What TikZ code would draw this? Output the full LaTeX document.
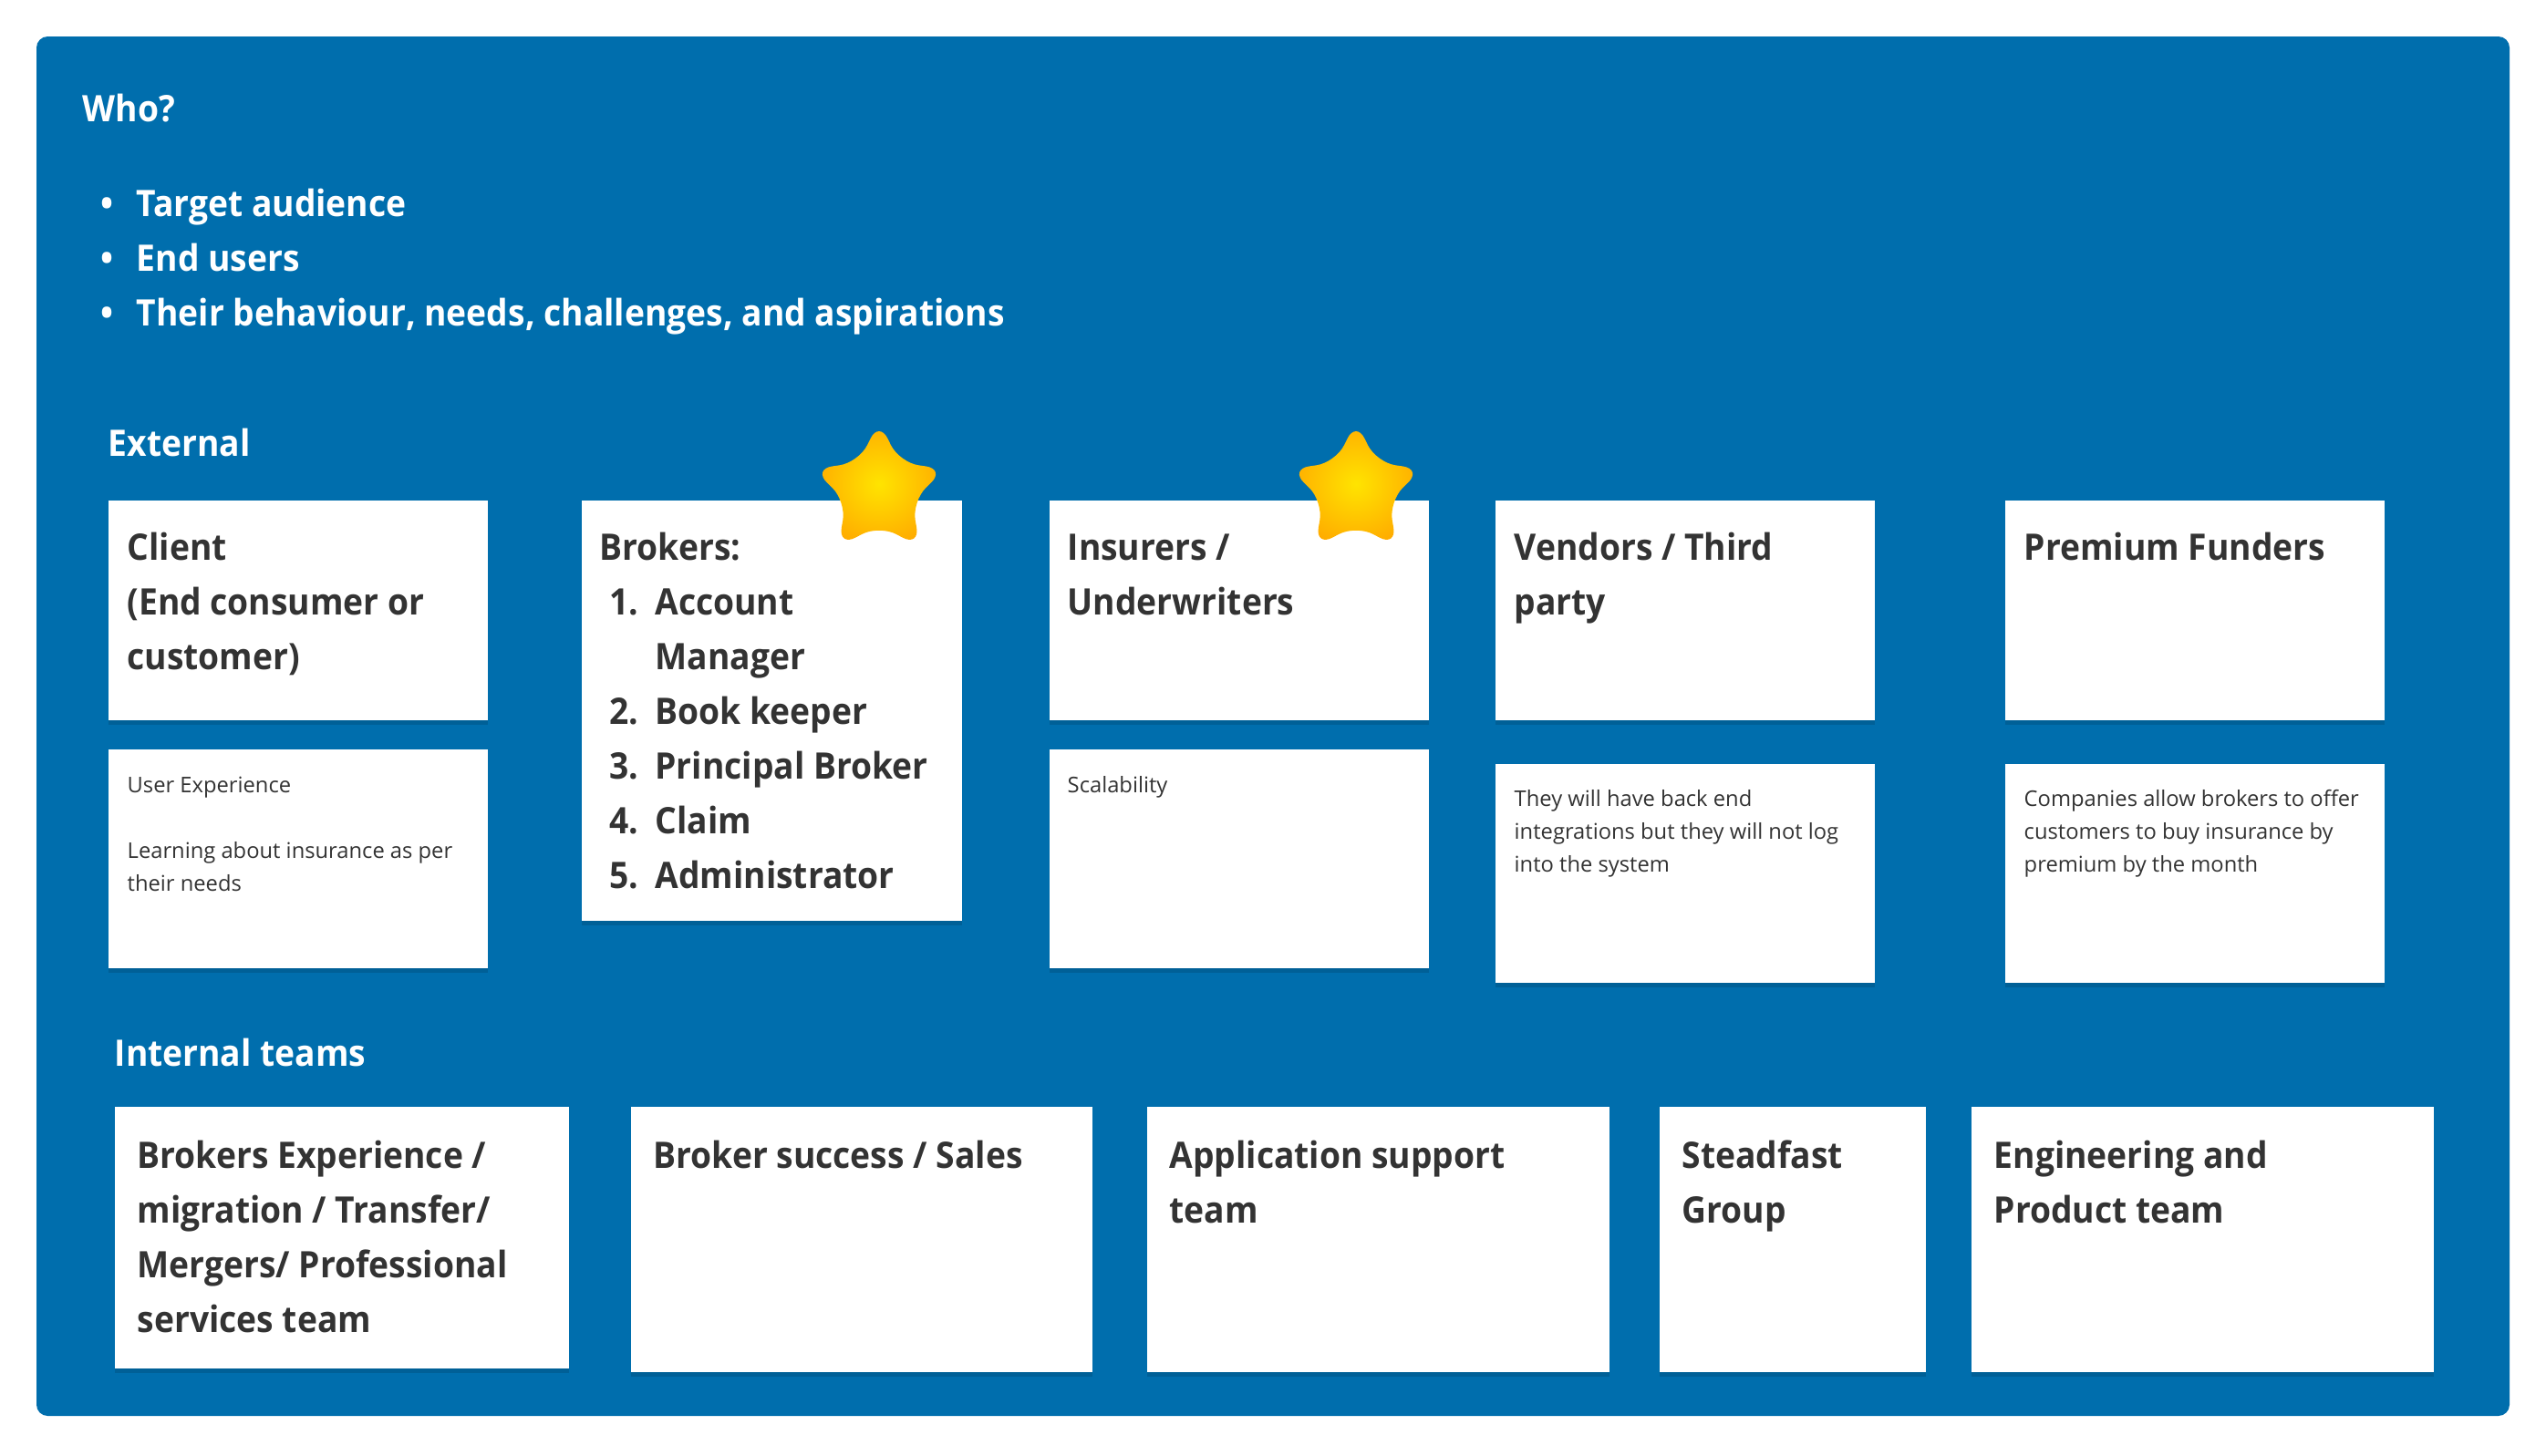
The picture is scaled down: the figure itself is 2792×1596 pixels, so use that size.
\documentclass[tikz,border=0pt]{standalone}
\usepackage{fontspec}
\setmainfont{Open Sans}[BoldFeatures={FakeStretch=0.93}]
\usetikzlibrary{shapes.geometric,shadows}
\definecolor{panelblue}{RGB}{0,110,173}
\definecolor{ink}{RGB}{51,51,51}
\definecolor{staryellow}{RGB}{255,228,0}
\definecolor{starorange}{RGB}{255,172,0}
\newcommand{\bigfont}{\fontsize{11.38pt}{17.07pt}\selectfont}
\newcommand{\smallfont}{\fontsize{6.75pt}{10.24pt}\selectfont}
\newcommand{\fbig}{\rule{0pt}{9.1pt}}
\newcommand{\fsmall}{\rule{0pt}{5.46pt}}
\newcommand{\numitem}[1]{\hspace*{3.1pt}\makebox[14.2pt][l]{#1}}
\newcommand{\bul}{\makebox[11.1pt][l]{\textbullet}}
\begin{document}
\begin{tikzpicture}[x=0.01cm,y=-0.01cm,
  card/.style={fill=white, inner sep=0pt, anchor=north west,
    drop shadow={shadow xshift=0pt, shadow yshift=-1.5pt, opacity=0.12, fill=black}},
  big/.style={anchor=north west, inner sep=0pt, align=left, font=\bigfont\bfseries, text=ink},
  small/.style={anchor=north west, inner sep=0pt, align=left, font=\smallfont, text=ink},
  head/.style={anchor=north west, inner sep=0pt, align=left, font=\bigfont\bfseries, text=white},
  favstar/.style={star, star points=5, star point ratio=2.0, inner sep=0pt,
    minimum size=1.52cm, rounded corners=6pt, shape border rotate=0,
    inner color=staryellow, outer color=starorange, shading=radial}
]
\useasboundingbox (0,0) rectangle (2792,1596);
\fill[panelblue, rounded corners=3.5pt] (40,40) rectangle (2752,1553);

% headings
\node[head] (who) at (90,101) {\fbig Who?};
\node[head] (bullets) at (110,205) {\fbig\bul Target audience\\
  \bul End users\\
  \bul Their behaviour, needs, challenges, and aspirations};
\node[head] (external) at (118,468) {\fbig External};
\node[head] (internal) at (125,1137) {\fbig Internal teams};

% external cards
\node[card, minimum width=4.16cm, minimum height=2.41cm] (client) at (118,548) {};
\node[card, minimum width=4.17cm, minimum height=4.61cm] (brokers) at (637,548) {};
\node[card, minimum width=4.16cm, minimum height=2.41cm] (insurers) at (1150,548) {};
\node[card, minimum width=4.16cm, minimum height=2.41cm] (vendors) at (1639,548) {};
\node[card, minimum width=4.16cm, minimum height=2.41cm] (funders) at (2198,548) {};

\node[card, minimum width=4.16cm, minimum height=2.40cm] (clientS) at (118,821) {};
\node[card, minimum width=4.16cm, minimum height=2.40cm] (insurersS) at (1150,821) {};
\node[card, minimum width=4.16cm, minimum height=2.40cm] (vendorsS) at (1639,837) {};
\node[card, minimum width=4.16cm, minimum height=2.40cm] (fundersS) at (2198,837) {};

\node[big] (clientT) at (139,582) {\fbig Client\\(End consumer or\\customer)};
\node[big] (brokersT) at (657,582) {\fbig Brokers:\\
  \numitem{1.}Account\\
  \numitem{}Manager\\
  \numitem{2.}Book keeper\\
  \numitem{3.}Principal Broker\\
  \numitem{4.}Claim\\
  \numitem{5.}Administrator};
\node[big] (insurersT) at (1170,582) {\fbig Insurers /\\Underwriters};
\node[big] (vendorsT) at (1660,582) {\fbig Vendors / Third\\party};
\node[big] (fundersT) at (2219,582) {\fbig Premium Funders};

\node[small] (clientST) at (139,850) {\fsmall User Experience\\[10.24pt]Learning about insurance as per\\their needs};
\node[small] (insurersST) at (1170,850) {\fsmall Scalability};
\node[small] (vendorsST) at (1660,865) {\fsmall They will have back end\\integrations but they will not log\\into the system};
\node[small] (fundersST) at (2219,865) {\fsmall Companies allow brokers to offer\\customers to buy insurance by\\premium by the month};

% stars
\node[favstar] (star1) at (964,538) {};
\node[favstar] (star2) at (1487,538) {};

% internal cards
\node[card, minimum width=4.98cm, minimum height=2.87cm] (bx) at (125,1213) {};
\node[card, minimum width=5.06cm, minimum height=2.91cm] (bs) at (691,1213) {};
\node[card, minimum width=5.07cm, minimum height=2.91cm] (as) at (1257,1213) {};
\node[card, minimum width=2.92cm, minimum height=2.91cm] (sg) at (1819,1213) {};
\node[card, minimum width=5.07cm, minimum height=2.91cm] (ep) at (2161,1213) {};

\node[big] (bxT) at (150,1249) {\fbig Brokers Experience /\\migration / Transfer/\\Mergers/ Professional\\services team};
\node[big] (bsT) at (716,1249) {\fbig Broker success / Sales};
\node[big] (asT) at (1282,1249) {\fbig Application support\\team};
\node[big] (sgT) at (1844,1249) {\fbig Steadfast\\Group};
\node[big] (epT) at (2186,1249) {\fbig Engineering and\\Product team};
\end{tikzpicture}
\end{document}
